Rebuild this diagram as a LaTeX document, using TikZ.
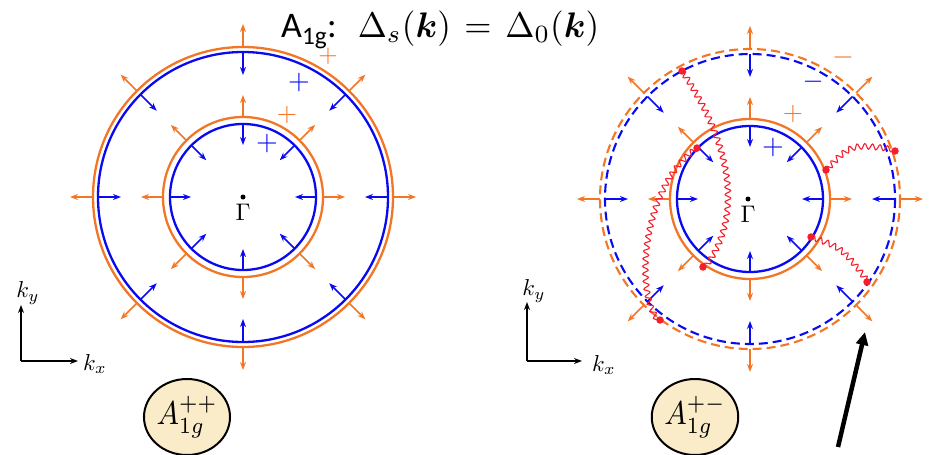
\documentclass[tikz,border=0pt]{standalone}
\usepackage{amsmath}
\usepackage{graphicx}
\usepackage{fontspec}
\usetikzlibrary{arrows.meta,decorations.pathmorphing,shapes.geometric}
\newfontfamily\carl{Carlito}
\definecolor{orng}{RGB}{243,118,38}
\definecolor{blu}{RGB}{10,10,240}
\definecolor{wred}{RGB}{245,30,45}
\definecolor{tanfill}{RGB}{250,236,200}
\newcommand\sclmath[2]{{\normalsize\scalebox{#1}{$#2$}}}
\newcommand\sclmathxy[3]{{\normalsize\scalebox{#1}[#2]{$#3$}}}
\begin{document}
\begin{tikzpicture}[x=1pt,y=-1pt,
  ring/.style={line width=2.3pt},
  dring/.style={line width=2.1pt, dash pattern=on 9pt off 5pt},
  arr/.style={line width=1.6pt, -{Stealth[length=8pt,width=6pt]}},
  wave/.style={wred, line width=1.1pt, decorate, decoration={snake, amplitude=2.8pt, segment length=7.5pt}},
  rdot/.style={circle, fill=wred, inner sep=0pt, minimum size=7.5pt},
  sgn/.style={inner sep=0pt},
  axis/.style={line width=1.4pt, -{Stealth[length=8pt,width=6pt]}},
  lbl/.style={ellipse, draw=black, line width=2pt, fill=tanfill, minimum width=84pt, minimum height=76pt, inner sep=0pt},
  klbl/.style={inner sep=0pt},
  glbl/.style={inner sep=0pt},
]
\useasboundingbox (0,0) rectangle (932,455);

% title
\node[anchor=base west, inner sep=0pt] (title) at (281,37)
  {{\carl\fontsize{36}{40}\selectfont A\textsubscript{1g}:}\hspace{21pt}\sclmathxy{3.5}{3.55}{\Delta_s(\boldsymbol{k})\mkern2mu=\mkern2mu\Delta_0(\boldsymbol{k})}};

% left diagram
\begin{scope}[shift={(243,197)}]
  \draw[orng, ring] (0,0) circle (150);
  \draw[blu, ring] (0,0) circle (145);
  \draw[orng, ring] (0,0) circle (80);
  \draw[blu, ring] (0,0) circle (73);
  \foreach \a in {0,45,...,315} {
    \draw[blu, arr] (\a:145) -- (\a:122);
    \draw[orng, arr] (\a:150) -- (\a:173);
    \draw[blu, arr] (\a:73) -- (\a:52);
    \draw[orng, arr] (\a:80) -- (\a:102);
  }
  \fill (0,0) circle (2.5);
  \node[glbl] (gL) at (0,15) {\sclmath{2.4}{\Gamma}};
\end{scope}
\node[sgn, orng] (pL1) at (328,56) {\sclmath{2.5}{+}};
\node[sgn, blu] (pL2) at (299,82) {\sclmath{2.8}{+}};
\node[sgn, orng] (pL3) at (287,115) {\sclmath{2.6}{+}};
\node[sgn, blu] (pL4) at (267,143) {\sclmath{2.8}{+}};

% right diagram
\begin{scope}[shift={(750,199)}]
  \draw[orng, dring] (0,0) circle (150);
  \draw[blu, dring] (0,0) circle (145);
  \draw[orng, ring] (0,0) circle (80);
  \draw[blu, ring] (0,0) circle (73);
  \foreach \a in {0,45,...,315} {
    \draw[blu, arr] (\a:145) -- (\a:122);
    \draw[orng, arr] (\a:150) -- (\a:173);
    \draw[blu, arr] (\a:73) -- (\a:52);
    \draw[orng, arr] (\a:80) -- (\a:102);
  }
  \fill (-2,0) circle (2.5);
  \node[glbl] (gR) at (-2,15) {\sclmath{2.4}{\Gamma}};
\end{scope}
\node[sgn, orng] (mR1) at (843,57) {\sclmath{2.8}{-}};
\node[sgn, blu] (mR2) at (813,82) {\sclmath{2.7}{-}};
\node[sgn, orng] (pR3) at (793,114) {\sclmath{2.6}{+}};
\node[sgn, blu] (pR4) at (773,147) {\sclmath{2.8}{+}};

% wavy lines
\coordinate (w1a) at (682,71);
\coordinate (w1b) at (703,267);
\coordinate (w2a) at (697,148);
\coordinate (w2b) at (660,320);
\coordinate (w3a) at (826,170);
\coordinate (w3b) at (895,151);
\coordinate (w4a) at (811,237);
\coordinate (w4b) at (867,282);
\draw[wave] (w1a) .. controls (735,150) and (740,220) .. (w1b);
\draw[wave] (w2a) .. controls (645,185) and (635,290) .. (w2b);
\draw[wave] (w3a) .. controls (850,145) .. (w3b);
\draw[wave] (w4a) .. controls (840,247) .. (w4b);
\foreach \p in {w1a,w1b,w2a,w2b,w3a,w3b,w4a,w4b}
  \node[rdot] at (\p) {};

% axes
\coordinate (oL) at (21,361);
\coordinate (yL) at (21,305);
\coordinate (xL) at (78,361);
\draw[axis] (oL) -- (yL);
\draw[axis] (oL) -- (xL);
\node[klbl] (kyL) at (28,293) {\sclmath{2.3}{k_y}};
\node[klbl] (kxL) at (95,364) {\sclmath{2.3}{k_x}};

\coordinate (oR) at (527,361);
\coordinate (yR) at (527,302);
\coordinate (xR) at (582,361);
\draw[axis] (oR) -- (yR);
\draw[axis] (oR) -- (xR);
\node[klbl] (kyR) at (534,291) {\sclmath{2.3}{k_y}};
\node[klbl] (kxR) at (604,365) {\sclmath{2.3}{k_x}};

% labels
\node[lbl] (aL) at (187,417) {\sclmathxy{3.0}{3.3}{A_{1g}^{++}}};
\node[lbl] (aR) at (695,417) {\sclmathxy{3.0}{3.3}{A_{1g}^{+-}}};

% pointer arrow
\coordinate (pa) at (838,447);
\coordinate (pb) at (865,332);
\draw[line width=4.5pt, -{Triangle[length=13pt,width=12pt]}] (pa) -- (pb);
\end{tikzpicture}
\end{document}
